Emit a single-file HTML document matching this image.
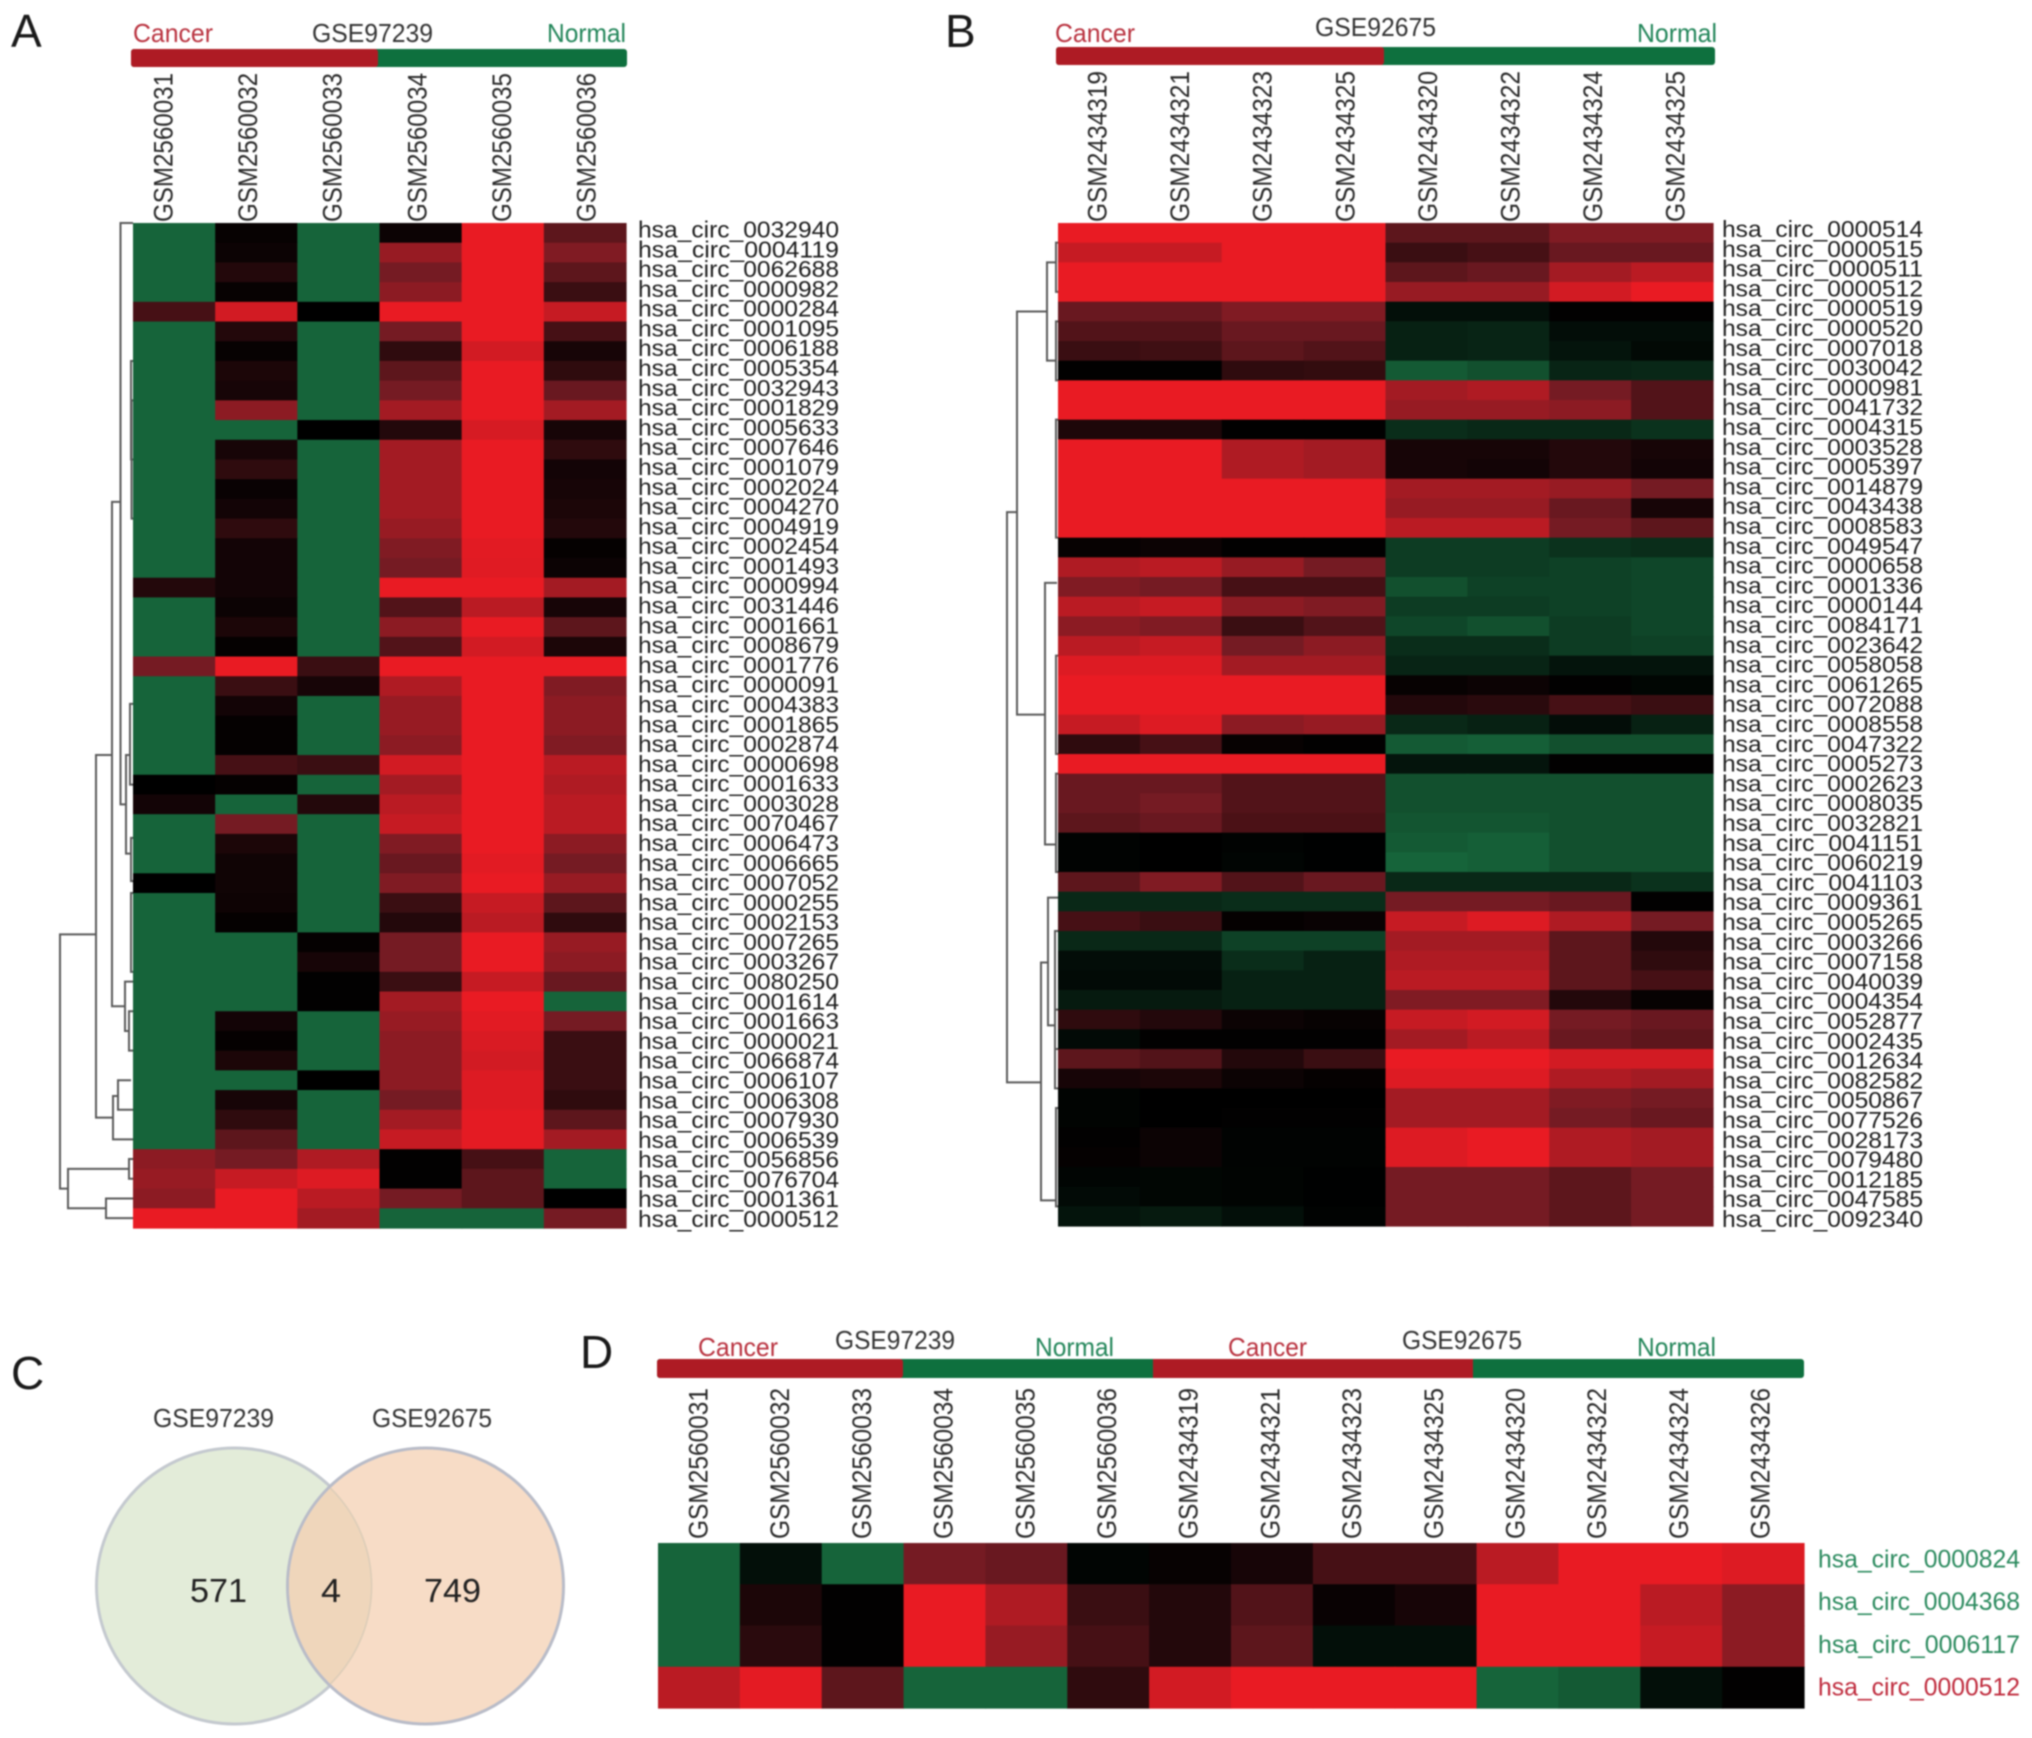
<!DOCTYPE html>
<html lang="en">
<head>
<meta charset="utf-8">
<title>circRNA heatmaps and Venn diagram</title>
<style>
html,body{margin:0;padding:0;background:#fff;}
svg{display:block;filter:blur(0.7px);font-family:"Liberation Sans",sans-serif;}
.lt{fill:#1a1a1a;font-size:46px;}
.tt{font-size:26px;fill:#333;}
.ca{fill:#b9323f;}
.no{fill:#23865a;}
</style>
</head>
<body>
<svg id="figure" width="2032" height="1738" viewBox="0 0 2032 1738" xmlns="http://www.w3.org/2000/svg">
<defs><clipPath id="venn-clip"><circle cx="234.5" cy="1586" r="138"/></clipPath></defs>
<rect width="2032" height="1738" fill="#fff"/>

<text class="lt" x="11" y="47">A</text>
<text class="lt" x="945" y="47">B</text>
<text class="lt" x="11" y="1389">C</text>
<text class="lt" x="580" y="1368">D</text>

<g>
<rect x="131" y="49" width="496" height="18" rx="3" fill="#0e703e"/>
<rect x="131" y="49" width="247" height="18" rx="3" fill="#ae1b24"/>
<text class="tt ca" x="133" y="42" textLength="80" lengthAdjust="spacingAndGlyphs">Cancer</text>
<text class="tt" x="312" y="42" textLength="121" lengthAdjust="spacingAndGlyphs">GSE97239</text>
<text class="tt no" x="547" y="42" textLength="79" lengthAdjust="spacingAndGlyphs">Normal</text>
</g>

<g>
<rect x="1056" y="47" width="659" height="18" rx="3" fill="#0e703e"/>
<rect x="1056" y="47" width="328" height="18" rx="3" fill="#ae1b24"/>
<text class="tt ca" x="1055" y="42" textLength="80" lengthAdjust="spacingAndGlyphs">Cancer</text>
<text class="tt" x="1315" y="36" textLength="121" lengthAdjust="spacingAndGlyphs">GSE92675</text>
<text class="tt no" x="1637" y="42" textLength="80" lengthAdjust="spacingAndGlyphs">Normal</text>
</g>

<g>
<rect x="657" y="1359" width="1147" height="19" rx="3" fill="#0e703e"/>
<rect x="657" y="1359" width="246" height="19" rx="3" fill="#ae1b24"/>
<rect x="1153" y="1359" width="320" height="19" fill="#ae1b24"/>
<text class="tt ca" x="698" y="1356" textLength="80" lengthAdjust="spacingAndGlyphs">Cancer</text>
<text class="tt" x="835" y="1349" textLength="120" lengthAdjust="spacingAndGlyphs">GSE97239</text>
<text class="tt no" x="1035" y="1356" textLength="79" lengthAdjust="spacingAndGlyphs">Normal</text>
<text class="tt ca" x="1228" y="1356" textLength="79" lengthAdjust="spacingAndGlyphs">Cancer</text>
<text class="tt" x="1402" y="1349" textLength="120" lengthAdjust="spacingAndGlyphs">GSE92675</text>
<text class="tt no" x="1637" y="1356" textLength="79" lengthAdjust="spacingAndGlyphs">Normal</text>
</g>

<g id="heatmaps"></g>

<g>
<circle cx="234.5" cy="1586" r="138" fill="#e3ecd9" stroke="#c4c9cf" stroke-width="3"/>
<circle cx="425.5" cy="1586" r="138" fill="#f7dcc6" stroke="#b9bcc8" stroke-width="3"/>
<circle cx="425.5" cy="1586" r="136.5" fill="#efd6bb" clip-path="url(#venn-clip)"/>
<circle cx="234.5" cy="1586" r="137" fill="none" stroke="#dccdb9" stroke-width="1.5" clip-path="url(#venn-overlap-clip)"/>
<clipPath id="venn-overlap-clip"><circle cx="425.5" cy="1586" r="136.5"/></clipPath>
<text class="tt" x="153" y="1427" textLength="121" lengthAdjust="spacingAndGlyphs">GSE97239</text>
<text class="tt" x="372" y="1427" textLength="120" lengthAdjust="spacingAndGlyphs">GSE92675</text>
<text x="190" y="1602" font-size="33" fill="#222" textLength="57" lengthAdjust="spacingAndGlyphs">571</text>
<text x="321" y="1602" font-size="33" fill="#222" textLength="20" lengthAdjust="spacingAndGlyphs">4</text>
<text x="424" y="1602" font-size="33" fill="#222" textLength="57" lengthAdjust="spacingAndGlyphs">749</text>
</g>
</svg>

<script>
const panelAColumns = ['GSM2560031','GSM2560032','GSM2560033','GSM2560034','GSM2560035','GSM2560036'];
const panelARows = ['hsa_circ_0032940','hsa_circ_0004119','hsa_circ_0062688','hsa_circ_0000982','hsa_circ_0000284','hsa_circ_0001095','hsa_circ_0006188','hsa_circ_0005354','hsa_circ_0032943','hsa_circ_0001829','hsa_circ_0005633','hsa_circ_0007646','hsa_circ_0001079','hsa_circ_0002024','hsa_circ_0004270','hsa_circ_0004919','hsa_circ_0002454','hsa_circ_0001493','hsa_circ_0000994','hsa_circ_0031446','hsa_circ_0001661','hsa_circ_0008679','hsa_circ_0001776','hsa_circ_0000091','hsa_circ_0004383','hsa_circ_0001865','hsa_circ_0002874','hsa_circ_0000698','hsa_circ_0001633','hsa_circ_0003028','hsa_circ_0070467','hsa_circ_0006473','hsa_circ_0006665','hsa_circ_0007052','hsa_circ_0000255','hsa_circ_0002153','hsa_circ_0007265','hsa_circ_0003267','hsa_circ_0080250','hsa_circ_0001614','hsa_circ_0001663','hsa_circ_0000021','hsa_circ_0066874','hsa_circ_0006107','hsa_circ_0006308','hsa_circ_0007930','hsa_circ_0006539','hsa_circ_0056856','hsa_circ_0076704','hsa_circ_0001361','hsa_circ_0000512'];
const panelAValues = [
[-10,.3,-10,.5,10,4],[-10,.5,-10,6.5,10,5.5],[-10,1.5,-10,5,10,4],[-10,.3,-10,6,10,2.5],[3,9,0,10,10,8.5],
[-10,1.5,-10,5,10,3],[-10,.3,-10,2,9,1],[-10,1.2,-10,4,10,2],[-10,1,-10,5,10,4.5],[-10,6,-10,7,10,7],
[-10,-10,0,1.5,9.2,1],[-10,1,-10,7,10,2],[-10,2,-10,7,10,.8],[-10,.4,-10,7,10,1],[-10,.8,-10,7,10,1.2],
[-10,2,-10,6.5,10,1.5],[-10,.8,-10,5.5,9.7,.2],[-10,.8,-10,5,9.6,.5],[1.5,.8,-10,10,10,7],[-10,.5,-10,3.5,8,1],
[-10,1.2,-10,6,10,4],[-10,.2,-10,3.5,9,1.2],[5,10,2.5,10,10,10],[-10,2.5,1,7.5,10,5.5],[-10,.8,-10,6.5,10,6],
[-10,.2,-10,6.5,10,6],[-10,.2,-10,6,10,5.5],[-10,3,2.5,9,10,8],[0,.2,-10,7,10,7.5],[.8,-10,1.5,8,10,8],
[-10,5,-10,8.5,10,8],[-10,1.2,-10,5.5,10,6],[-10,.7,-10,4.5,9.7,5],[0,.7,-10,5.5,10,6.5],[-10,.6,-10,2.5,8.5,4],
[-10,.2,-10,1.5,8,2],[-10,-10,.2,5,10,6.5],[-10,-10,1,5,10,6],[-10,-10,.1,2.5,8.5,4.5],[-10,-10,.1,7,10,-10],
[-10,.8,-10,6.5,9.7,5],[-10,.2,-10,6,9.3,2.5],[-10,1.2,-10,6,9,2.5],[-10,-10,0,6,9.5,2.5],[-10,1,-10,5,9.5,2],
[-10,2,-10,7,9.8,4],[-10,4,-10,8.5,9.8,7],[6,5,7.5,.1,3,-10],[6.5,8.5,9.5,.1,4,-10],[6,10,8,5,4,0],[10,10,7,-10,-10,5]
];
const panelATree = [
[12.5,0,29.5,0,7],[7,27,32,3,2],[3,24.4,28.5,0,0],[2,31.2,33.4,0,0],[21,14.15,39.75,12.5,8],[8,38.5,41,0,4],[4,40,42,0,0],
[37,27,45.4,21,20],[20,44.3,46.5,15,0],[15,43.5,45,2,0],[73,36.1,49,37,65],[65,48,50,4,27],[4,47.5,48.5,0,0],[27,49.5,50.5,0,0],
[2,7,12,0,0],[1.5,9,15,0,0],[2,34,38,0,0]
];

const panelBColumns = ['GSM2434319','GSM2434321','GSM2434323','GSM2434325','GSM2434320','GSM2434322','GSM2434324','GSM2434325'];
const panelBRows = ['hsa_circ_0000514','hsa_circ_0000515','hsa_circ_0000511','hsa_circ_0000512','hsa_circ_0000519','hsa_circ_0000520','hsa_circ_0007018','hsa_circ_0030042','hsa_circ_0000981','hsa_circ_0041732','hsa_circ_0004315','hsa_circ_0003528','hsa_circ_0005397','hsa_circ_0014879','hsa_circ_0043438','hsa_circ_0008583','hsa_circ_0049547','hsa_circ_0000658','hsa_circ_0001336','hsa_circ_0000144','hsa_circ_0084171','hsa_circ_0023642','hsa_circ_0058058','hsa_circ_0061265','hsa_circ_0072088','hsa_circ_0008558','hsa_circ_0047322','hsa_circ_0005273','hsa_circ_0002623','hsa_circ_0008035','hsa_circ_0032821','hsa_circ_0041151','hsa_circ_0060219','hsa_circ_0041103','hsa_circ_0009361','hsa_circ_0005265','hsa_circ_0003266','hsa_circ_0007158','hsa_circ_0040039','hsa_circ_0004354','hsa_circ_0052877','hsa_circ_0002435','hsa_circ_0012634','hsa_circ_0082582','hsa_circ_0050867','hsa_circ_0077526','hsa_circ_0028173','hsa_circ_0079480','hsa_circ_0012185','hsa_circ_0047585','hsa_circ_0092340'];
const panelBValues = [
[10,10,10,10,4,4,5.5,5.5],[8.5,8.5,10,10,2.5,3,4.5,4.5],[10,10,10,10,4,4.5,7,8],[10,10,10,10,6.5,6.5,9,10],
[4.5,4.5,5.5,5.5,-1.5,-1.5,.1,.1],[3.5,3.5,4.5,4.5,-3.3,-3.6,-1.3,-1.3],[2.5,2.7,4,3.5,-3.3,-3.6,-2,-.9],[.1,.1,2,2.2,-9,-8,-3.6,-3.9],
[10,10,10,10,7,7.5,5,3.5],[10,10,10,10,6.5,6.5,6,3.5],[1.3,1.3,.1,.1,-4.5,-4,-4,-5],[10,10,7.5,7,1,1,1.5,1],
[10,10,7.5,7,1,.8,1.5,.8],[10,10,10,10,7,7,6.5,5],[10,10,10,10,6.5,6.5,4.5,1],[10,10,10,10,8,8,5,4],
[.3,.5,.1,.1,-6,-6,-5,-4.5],[7.5,8,6.5,5,-6,-6,-6.5,-7],[5.5,5,3,3,-8,-6.5,-6.5,-7],[8,8.5,6,5.5,-6,-6,-6.5,-7],
[6,5.5,2.5,3.5,-7,-8,-6,-7],[8,8.5,5,6,-4.5,-4.5,-6,-6.5],[9.5,9.5,7,7,-3.6,-3.6,-2,-2],[10,10,10,10,.3,.5,.1,-.6],
[10,10,10,10,1.5,1.8,3,2.5],[8.5,9.5,6,6.5,-4,-3.3,-1.3,-3.3],[2,3,.3,.1,-9,-9.5,-8,-8],[10,10,10,10,-2,-2,.1,.1],
[4.5,4.5,3.5,3.5,-8,-8,-8,-8],[4.5,5,3.5,3.5,-8,-8,-8,-8],[4,4.5,3.2,3.2,-8.5,-8.5,-8,-8],[-.3,0,-.3,-.1,-9,-9.5,-8,-8],
[-.3,0,-.5,-.1,-10,-9.5,-8,-8],[4,5.5,3.5,4.5,-4,-4,-4,-5],[-4,-4,-4.5,-4.5,5,5,4.5,.1],[3,2.5,.2,.4,8.5,9.5,7.5,5],
[-4,-4,-6.5,-6.5,7,7,4,1.5],[-1.3,-1.3,-4.5,-3.3,7.5,7.5,4,2],[-1,-1,-3.3,-3.3,8,8,4,3],[-2.6,-2.6,-3.3,-3.3,5.5,5.5,1.5,.3],
[2,1.5,.5,.3,8.5,9,5,4.5],[-1,.1,.1,.1,7,8,4.5,4],[4,3.5,1.5,2.5,10,10,9,9],[1,1.2,.5,.2,9.5,9.5,7.5,7],
[-.4,0,0,0,7,7,5.5,5],[-.4,0,.1,.1,7,7,5,4.5],[.1,.5,-.3,-.3,9.5,10,7.5,7],[.2,.5,-.3,-.3,9.5,10,7.5,7],
[-.5,-.6,-.4,-.1,5,5,4,5],[-1,-.6,-.4,-.1,5,5,4,5],[-2,-2.6,-1.5,-.3,5,5,4,5]
];
const panelBTree = [
[41,4.5,25,11,13],[11,2,7,2,2],[13,18.3,31.6,1,2],[51,14.7,43.7,41,17],[17,37.6,49.7,10,2],[10,34.3,40.8,0,3],
[3,36,42,0,0],[2,1,3.5,0,0],[2,5,8,0,0],[2,10,16,0,0],[2,22,27,0,0],[2,28,33,0,0],[3,40,44,0,0],[2,45,50,0,0]
];

const panelDColumns = ['GSM2560031','GSM2560032','GSM2560033','GSM2560034','GSM2560035','GSM2560036','GSM2434319','GSM2434321','GSM2434323','GSM2434325','GSM2434320','GSM2434322','GSM2434324','GSM2434326'];
const panelDRows = ['hsa_circ_0000824','hsa_circ_0004368','hsa_circ_0006117','hsa_circ_0000512'];
const panelDValues = [
[-10,-1.5,-10,5,4.5,-.5,.3,1,3,3,8,10,10,9.5],
[-10,1.2,.1,10,7.5,2.5,1.5,3.5,.4,1,10,10,8,6],
[-10,1.8,.1,10,6.5,3,1.5,4,-1.5,-1.5,10,10,8.5,6],
[8,9.8,4,-10,-10,2,9,10,10,10,-10,-9,-1.5,.1]
];
const panelDRowColors = ['#2b8a5e','#2b8a5e','#2b8a5e','#bf2a3c'];

const SVG_NS = 'http://www.w3.org/2000/svg';
const heatLayer = document.getElementById('heatmaps');

function colorFor(v) {
  const t = Math.min(1, Math.abs(v) / 10);
  if (v >= 0) {
    const tint = Math.min(1, t * 2);
    return 'rgb(' + Math.round(233 * t) + ',' + Math.round(27 * tint) + ',' + Math.round(35 * tint) + ')';
  }
  return 'rgb(' + Math.round(22 * t) + ',' + Math.round(100 * t) + ',' + Math.round(58 * t) + ')';
}

function drawHeatmap(p) {
  const group = document.createElementNS(SVG_NS, 'g');
  
  
  heatLayer.appendChild(group);
  const cols = p.columns.length;
  const rows = p.rows.length;
  const colW = (p.right - p.left) / cols;
  const rowH = (p.bottom - p.top) / rows;
  const xScale = function (c) { return p.left + c * colW; };
  const yScale = function (r) { return p.top + r * rowH; };

  p.values.forEach(function (rowVals, r) {
    rowVals.forEach(function (v, c) {
      const cell = document.createElementNS(SVG_NS, 'rect');
      
      
      cell.setAttribute('x', xScale(c));
      cell.setAttribute('y', yScale(r));
      cell.setAttribute('width', colW + 0.6);
      cell.setAttribute('height', rowH + 0.6);
      cell.setAttribute('fill', colorFor(v));
      group.appendChild(cell);
    });
  });

  p.columns.forEach(function (label, c) {
    const t = document.createElementNS(SVG_NS, 'text');
    
    
    const bx = p.colLabelStart + c * p.colLabelStep + 9.5;
    t.setAttribute('x', bx);
    t.setAttribute('y', p.colLabelBase);
    t.setAttribute('transform', 'rotate(-90 ' + bx + ' ' + p.colLabelBase + ')');
    t.setAttribute('font-size', '26.5');
    t.setAttribute('fill', '#2a2a2a');
    t.setAttribute('textLength', p.colLabelLen);
    t.setAttribute('lengthAdjust', 'spacingAndGlyphs');
    t.textContent = label;
    group.appendChild(t);
  });

  p.rows.forEach(function (label, r) {
    const t = document.createElementNS(SVG_NS, 'text');
    
    
    t.setAttribute('x', p.rowLabelX);
    t.setAttribute('y', p.rowLabelStart + r * p.rowLabelStep + 7.5);
    t.setAttribute('font-size', p.rowFont);
    t.setAttribute('fill', p.rowColors ? p.rowColors[r] : '#1e1e1e');
    t.setAttribute('textLength', p.rowLabelLen);
    t.setAttribute('lengthAdjust', 'spacingAndGlyphs');
    t.textContent = label;
    group.appendChild(t);
  });

  if (p.tree) {
    const rowCenter = function (r) { return p.top + r * rowH; };
    const heightX = function (h) { return p.left - h; };
    p.tree.forEach(function (m) {
      const link = document.createElementNS(SVG_NS, 'path');
      
      
      link.setAttribute('d', 'M' + heightX(m[3]) + ' ' + rowCenter(m[1]) + 'H' + heightX(m[0]) + 'V' + rowCenter(m[2]) + 'H' + heightX(m[4]));
      link.setAttribute('fill', 'none');
      link.setAttribute('stroke', '#5a5a5a');
      link.setAttribute('stroke-width', '2');
      group.appendChild(link);
    });
  }
}

drawHeatmap({name:'heatmap-panel-a', left:133, right:626, top:223, bottom:1228, columns:panelAColumns, rows:panelARows, values:panelAValues, tree:panelATree,
  colLabelStart:163, colLabelStep:84.6, colLabelBase:222, colLabelLen:149, rowLabelX:638, rowLabelStart:230, rowLabelStep:19.79, rowLabelLen:201, rowFont:23});
drawHeatmap({name:'heatmap-panel-b', left:1058, right:1713, top:223, bottom:1226, columns:panelBColumns, rows:panelBRows, values:panelBValues, tree:panelBTree,
  colLabelStart:1097, colLabelStep:82.6, colLabelBase:222, colLabelLen:151, rowLabelX:1722, rowLabelStart:229.5, rowLabelStep:19.8, rowLabelLen:201, rowFont:23});
drawHeatmap({name:'heatmap-panel-d', left:658, right:1804, top:1543, bottom:1708, columns:panelDColumns, rows:panelDRows, values:panelDValues, rowColors:panelDRowColors,
  colLabelStart:698, colLabelStep:81.7, colLabelBase:1539, colLabelLen:151, rowLabelX:1818, rowLabelStart:1560, rowLabelStep:42.7, rowLabelLen:202, rowFont:25});
</script>
</body>
</html>
